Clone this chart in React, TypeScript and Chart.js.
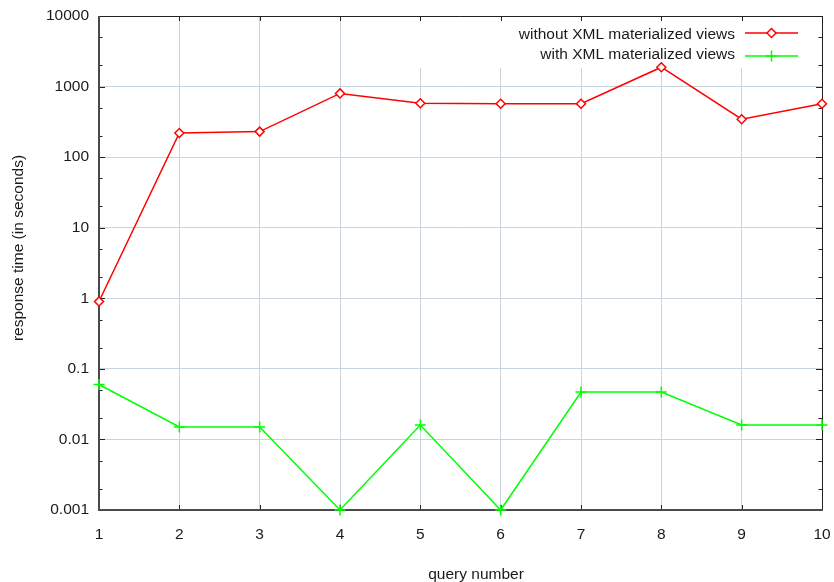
import React, { useEffect, useRef } from 'react';
import { Chart, registerables } from 'chart.js';

Chart.register(...registerables);

const queries = ['1', '2', '3', '4', '5', '6', '7', '8', '9', '10'];
const withoutViews = [0.9, 220, 230, 800, 580, 570, 570, 1880, 345, 570];
const withViews = [0.06, 0.015, 0.015, 0.001, 0.016, 0.001, 0.047, 0.047, 0.016, 0.016];
const yTickValues = [0.001, 0.01, 0.1, 1, 10, 100, 1000, 10000];
const yTickLabels = ['0.001', '0.01', '0.1', '1', '10', '100', '1000', '10000'];
const minorMultipliers = [2, 5];
const seriesNames = ['without XML materialized views', 'with XML materialized views'];
const seriesColors = ['#ff0000', '#00ff00'];
const xTitle = 'query number';
const yTitle = 'response time (in seconds)';

const FONT_FAMILY = '"Liberation Sans", Arial, Helvetica, sans-serif';
const FONT_SIZE = 15.5;
const TEXT_COLOR = '#1a1a1a';
const GRID_COLOR = '#c9d5de';

function drawDiamond(ctx: CanvasRenderingContext2D, x: number, y: number, r: number) {
  ctx.beginPath();
  ctx.moveTo(x, y - r);
  ctx.lineTo(x + r, y);
  ctx.lineTo(x, y + r);
  ctx.lineTo(x - r, y);
  ctx.closePath();
  ctx.fill();
  ctx.stroke();
}

function drawCross(ctx: CanvasRenderingContext2D, x: number, y: number, r: number) {
  ctx.beginPath();
  ctx.moveTo(x - r, y);
  ctx.lineTo(x + r, y);
  ctx.moveTo(x, y - r);
  ctx.lineTo(x, y + r);
  ctx.stroke();
}

const gnuplotFrame = {
  id: 'gnuplotFrame',
  beforeDatasetsDraw(chart: any) {
    const { ctx, chartArea: a, scales } = chart;
    const xs = scales.x;
    const ys = scales.y;
    ctx.save();

    // key box (white, hides grid lines)
    ctx.fillStyle = '#ffffff';
    ctx.fillRect(a.left + 300, a.top + 1, a.right - a.left - 301, 51);

    // key entries
    ctx.font = `${FONT_SIZE}px ${FONT_FAMILY}`;
    ctx.textAlign = 'right';
    ctx.textBaseline = 'alphabetic';
    const textRight = a.right - 87;
    const sampleL = a.right - 77;
    const sampleR = a.right - 24;
    const textRows = [a.top + 23, a.top + 43];
    const lineRows = [a.top + 17, a.top + 40];
    seriesNames.forEach((name, i) => {
      ctx.fillStyle = TEXT_COLOR;
      ctx.fillText(name, textRight, textRows[i]);
      const ry = lineRows[i];
      ctx.strokeStyle = seriesColors[i];
      ctx.lineWidth = 1.5;
      ctx.beginPath();
      ctx.moveTo(sampleL, ry);
      ctx.lineTo(sampleR, ry);
      ctx.stroke();
      const mx = (sampleL + sampleR) / 2;
      ctx.fillStyle = '#ffffff';
      if (i === 0) drawDiamond(ctx, mx, ry, 4.5);
      else drawCross(ctx, mx, ry, 5.5);
    });

    // axis titles
    ctx.fillStyle = TEXT_COLOR;
    ctx.textAlign = 'center';
    ctx.textBaseline = 'alphabetic';
    ctx.fillText(xTitle, a.left + 377, a.bottom + 69);
    ctx.save();
    ctx.translate(a.left - 80, a.top + 232);
    ctx.rotate(-Math.PI / 2);
    ctx.textBaseline = 'middle';
    ctx.fillText(yTitle, 0, 0);
    ctx.restore();

    // tick marks
    ctx.strokeStyle = '#222222';
    ctx.lineWidth = 1;
    const ticks: { v: number; len: number }[] = [];
    yTickValues.forEach((v) => {
      ticks.push({ v, len: 6 });
      minorMultipliers.forEach((m) => {
        const mv = v * m;
        if (mv < yTickValues[yTickValues.length - 1]) ticks.push({ v: mv, len: 3.5 });
      });
    });
    ctx.beginPath();
    ticks.forEach(({ v, len }) => {
      const py = Math.round(ys.getPixelForValue(v)) + 0.5;
      ctx.moveTo(a.left, py);
      ctx.lineTo(a.left + len, py);
      ctx.moveTo(a.right, py);
      ctx.lineTo(a.right - len, py);
    });
    queries.forEach((_, i) => {
      const px = Math.round(xs.getPixelForTick(i)) + 0.5;
      ctx.moveTo(px, a.bottom);
      ctx.lineTo(px, a.bottom - 5);
      ctx.moveTo(px, a.top);
      ctx.lineTo(px, a.top + 5);
    });
    ctx.stroke();

    // border
    ctx.strokeStyle = '#222222';
    ctx.lineWidth = 1;
    ctx.beginPath();
    ctx.moveTo(a.left, a.top + 0.5);
    ctx.lineTo(a.right + 0.5, a.top + 0.5);
    ctx.lineTo(a.right + 0.5, a.bottom);
    ctx.stroke();
    ctx.strokeStyle = '#4a4a4a';
    ctx.lineWidth = 2;
    ctx.beginPath();
    ctx.moveTo(a.left, a.top);
    ctx.lineTo(a.left, a.bottom);
    ctx.lineTo(a.right + 1, a.bottom);
    ctx.stroke();

    ctx.restore();
  },
};

export default function App() {
  const canvasRef = useRef<HTMLCanvasElement | null>(null);

  useEffect(() => {
    const canvas = canvasRef.current;
    if (!canvas) return;
    const font = { family: FONT_FAMILY, size: FONT_SIZE };
    const chart = new Chart(canvas, {
      type: 'line',
      data: {
        labels: queries,
        datasets: [
          {
            label: seriesNames[0],
            data: withoutViews,
            borderColor: seriesColors[0],
            backgroundColor: '#ffffff',
            borderWidth: 1.5,
            pointStyle: 'rectRot',
            pointRadius: 4.5,
            pointBorderWidth: 1.5,
            pointBackgroundColor: '#ffffff',
            pointBorderColor: seriesColors[0],
            tension: 0,
            clip: false,
          },
          {
            label: seriesNames[1],
            data: withViews,
            borderColor: seriesColors[1],
            backgroundColor: seriesColors[1],
            borderWidth: 1.5,
            pointStyle: 'cross',
            pointRadius: 5.5,
            pointBorderWidth: 1.5,
            pointBorderColor: seriesColors[1],
            tension: 0,
            clip: false,
          },
        ],
      },
      options: {
        responsive: false,
        animation: false,
        devicePixelRatio: 1,
        layout: { padding: { top: 16, right: 12, left: 0, bottom: 0 } },
        plugins: {
          legend: { display: false },
          tooltip: { enabled: false },
        },
        scales: {
          x: {
            type: 'category',
            offset: false,
            grid: { color: GRID_COLOR, drawTicks: false, lineWidth: 1 },
            border: { display: false },
            ticks: { padding: 15, color: TEXT_COLOR, font, maxRotation: 0, autoSkip: false },
            afterFit: (s: any) => {
              s.height = 72;
              s.paddingLeft = 0;
              s.paddingRight = 0;
            },
          },
          y: {
            type: 'logarithmic',
            min: yTickValues[0],
            max: yTickValues[yTickValues.length - 1],
            afterBuildTicks: (s: any) => {
              s.ticks = yTickValues.map((v) => ({ value: v }));
            },
            grid: { color: GRID_COLOR, drawTicks: false, lineWidth: 1 },
            border: { display: false },
            ticks: {
              padding: 10,
              color: TEXT_COLOR,
              font,
              autoSkip: false,
              callback: (value: any) => {
                const i = yTickValues.indexOf(Number(value));
                return i >= 0 ? yTickLabels[i] : '';
              },
            },
            afterFit: (s: any) => {
              s.width = 99;
              s.paddingTop = 0;
              s.paddingBottom = 0;
            },
          },
        },
      } as any,
      plugins: [gnuplotFrame],
    });
    return () => chart.destroy();
  }, []);

  return (
    <div style={{ position: 'absolute', left: 0, top: 0, width: 834, height: 582, background: '#fff' }}>
      <canvas ref={canvasRef} width={834} height={582} style={{ display: 'block' }} />
    </div>
  );
}
